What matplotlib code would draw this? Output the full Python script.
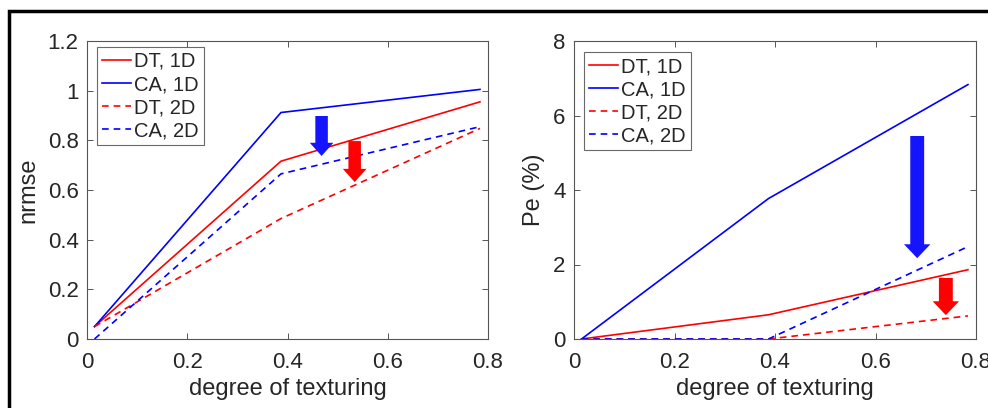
import numpy as np
import matplotlib
matplotlib.use('Agg')
import matplotlib.pyplot as plt
from matplotlib.patches import Rectangle

plt.rcParams['font.family'] = ['Liberation Sans', 'DejaVu Sans']

# data
x = [0.015, 0.387, 0.784]
labels = ['DT, 1D', 'CA, 1D', 'DT, 2D', 'CA, 2D']
colors = ['#ff0000', '#0000ff', '#ff0000', '#0000ff']
styles = ['-', '-', '--', '--']

nrmse_dt_1d = [0.05, 0.716, 0.955]
nrmse_ca_1d = [0.05, 0.912, 1.005]
nrmse_dt_2d = [0.05, 0.485, 0.848]
nrmse_ca_2d = [0.0, 0.665, 0.855]

pe_dt_1d = [0.0, 0.65, 1.86]
pe_ca_1d = [0.0, 3.77, 6.83]
pe_dt_2d = [0.0, 0.0, 0.62]
pe_ca_2d = [0.0, 0.0, 2.48]

# arrows: x, y start, y end
left_arrows = [(0.468, 0.898, 0.737, '#1414ff'), (0.534, 0.797, 0.632, '#ff0000')]
right_arrows = [(0.683, 5.45, 2.17, '#1414ff'), (0.740, 1.64, 0.64, '#ff0000')]

fig = plt.figure(figsize=(9.88, 4.08), dpi=100)
W, H = 988, 408
ax1 = fig.add_axes([87 / W, 1 - 339 / H, 401 / W, 298 / H])
ax2 = fig.add_axes([574 / W, 1 - 339 / H, 402 / W, 298 / H])

txt = '#262626'


def setup(ax, series, ylim, yticks, ylabel, arrows, shaft, head_w, head_l, leg_y):
    for ys, lab, c, ls in zip(series, labels, colors, styles):
        if ls == '--':
            ax.plot(x, ys, color=c, lw=1.2, dashes=(4, 3), label=lab)
        else:
            ax.plot(x, ys, color=c, lw=1.2, label=lab)
    for ax_x, y0, y1, c in arrows:
        ax.annotate('', xy=(ax_x, y1), xytext=(ax_x, y0),
                    arrowprops=dict(arrowstyle='simple,head_width=%g,head_length=%g,tail_width=%g'
                                    % (head_w, head_l, shaft),
                                    color=c, mutation_scale=1, shrinkA=0, shrinkB=0, lw=0))
    ax.set_xlim(0, 0.8)
    ax.set_ylim(*ylim)
    ax.set_xticks([0, 0.2, 0.4, 0.6, 0.8])
    ax.set_xticklabels(['0', '0.2', '0.4', '0.6', '0.8'])
    ax.set_yticks(yticks)
    ax.set_yticklabels(['%g' % t for t in yticks])
    ax.tick_params(direction='in', top=True, right=True, length=4, width=0.7,
                   colors='#555555', labelcolor=txt, labelsize=16, pad=6)
    ax.tick_params(axis='x', pad=9)
    for s in ax.spines.values():
        s.set_color('#555555')
        s.set_linewidth(0.8)
    ax.set_xlabel('degree of texturing', fontsize=17, color=txt, labelpad=4)
    ax.set_ylabel(ylabel, fontsize=17, color=txt, labelpad=6)
    leg = ax.legend(loc='upper left', bbox_to_anchor=(0.025, leg_y), fontsize=14.5,
                    frameon=True, fancybox=False, edgecolor='#444444', handlelength=1.45,
                    handletextpad=0.15, borderpad=0.25, labelspacing=0.2, borderaxespad=0.0)
    leg.get_frame().set_linewidth(0.8)
    for t in leg.get_texts():
        t.set_color(txt)


setup(ax1, [nrmse_dt_1d, nrmse_ca_1d, nrmse_dt_2d, nrmse_ca_2d], (0, 1.2),
      [0, 0.2, 0.4, 0.6, 0.8, 1, 1.2], 'nrmse', left_arrows, 9, 17, 9.5, 0.98)
setup(ax2, [pe_dt_1d, pe_ca_1d, pe_dt_2d, pe_ca_2d], (0, 8),
      [0, 2, 4, 6, 8], 'Pe (%)', right_arrows, 10, 19, 10, 0.963)

# outer frame of the cropped figure
fig.patches.append(Rectangle((9 / W, -0.1), 1.2, 1.1 - 11 / H, transform=fig.transFigure,
                             fill=False, edgecolor='black', lw=2.5))

fig.savefig('out.png', dpi=100)
